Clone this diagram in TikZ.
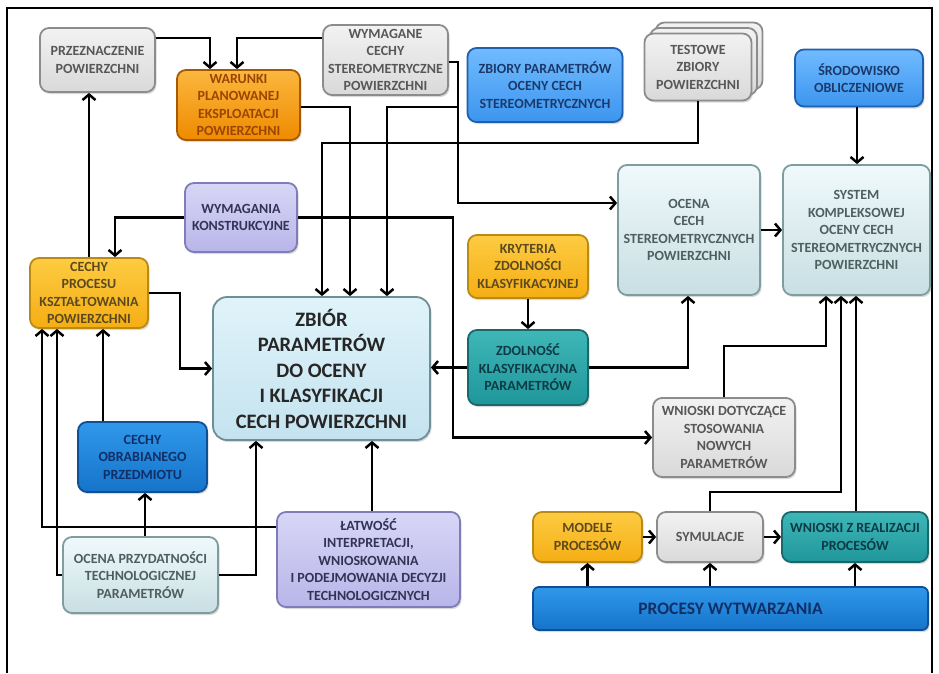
\documentclass[tikz,border=0pt]{standalone}
\usepackage{fontspec}
\setmainfont{Carlito}
\usepackage{xcolor}
\usetikzlibrary{arrows.meta,shadows}

\definecolor{grayline}{HTML}{8C8C8C}
\definecolor{graytop}{HTML}{F2F2F2}
\definecolor{graybot}{HTML}{D9D9D9}
\definecolor{graytext}{HTML}{575757}
\definecolor{orline}{HTML}{A65A00}
\definecolor{ortop}{HTML}{FBB73F}
\definecolor{orbot}{HTML}{EF8A00}
\definecolor{ortext}{HTML}{9A4600}
\definecolor{yeline}{HTML}{B98A14}
\definecolor{yetop}{HTML}{FDCB42}
\definecolor{yebot}{HTML}{F5AE14}
\definecolor{yetext}{HTML}{5C4A1E}
\definecolor{blline}{HTML}{1F5FAE}
\definecolor{bltop}{HTML}{71BBFF}
\definecolor{blbot}{HTML}{3C95EE}
\definecolor{bltext}{HTML}{1B3A6B}
\definecolor{dbline}{HTML}{0F4F95}
\definecolor{dbtop}{HTML}{3098EA}
\definecolor{dbbot}{HTML}{1574CA}
\definecolor{dbtext}{HTML}{0F2F66}
\definecolor{lvline}{HTML}{7F7CB8}
\definecolor{lvtop}{HTML}{D8D6F6}
\definecolor{lvbot}{HTML}{B8B5E9}
\definecolor{lvtext}{HTML}{333355}
\definecolor{pline}{HTML}{7F9C9E}
\definecolor{ptop}{HTML}{F0F9FB}
\definecolor{pbot}{HTML}{C8DFE3}
\definecolor{ptext}{HTML}{4F5F60}
\definecolor{bgline}{HTML}{6F8E96}
\definecolor{bgtop}{HTML}{E0F3FA}
\definecolor{bgbot}{HTML}{C4E3EF}
\definecolor{bgtext}{HTML}{262626}
\definecolor{tlline}{HTML}{17696B}
\definecolor{tltop}{HTML}{3FB6B8}
\definecolor{tlbot}{HTML}{1F979A}
\definecolor{tltext}{HTML}{0E3A45}

\tikzset{
	boxbase/.style={rounded corners=9pt, line width=1.8pt, align=center, inner sep=1pt,
		font=\bfseries\fontsize{14}{17.5}\selectfont,
		drop shadow={shadow xshift=1.5pt,shadow yshift=-2pt,opacity=0.3}},
	wh/.style 2 args={minimum width=#1pt, minimum height=#2pt},
	graybox/.style={boxbase, draw=grayline, top color=graytop, bottom color=graybot, text=graytext},
	orangebox/.style={boxbase, draw=orline, top color=ortop, bottom color=orbot, text=ortext},
	yellowbox/.style={boxbase, draw=yeline, top color=yetop, bottom color=yebot, text=yetext},
	bluebox/.style={boxbase, draw=blline, top color=bltop, bottom color=blbot, text=bltext},
	darkbluebox/.style={boxbase, draw=dbline, top color=dbtop, bottom color=dbbot, text=dbtext},
	lavbox/.style={boxbase, draw=lvline, top color=lvtop, bottom color=lvbot, text=lvtext},
	palebox/.style={boxbase, draw=pline, top color=ptop, bottom color=pbot, text=ptext},
	bigbox/.style={boxbase, draw=bgline, top color=bgtop, bottom color=bgbot, text=bgtext,
		rounded corners=14pt, font=\bfseries\fontsize{20.5}{25.5}\selectfont},
	tealbox/.style={boxbase, draw=tlline, top color=tltop, bottom color=tlbot, text=tltext},
	arr/.style={line width=2.5pt, -{Straight Barb[length=5.5pt,width=13pt]}},
}

\begin{document}
\begin{tikzpicture}[x=1pt,y=-1pt]
	\useasboundingbox (0,0) rectangle (939,673);
	\draw[line width=2pt] (7,673) -- (7,8) -- (932,8) -- (932,673);
	%
	\node[graybox,wh={115}{64}] (przezn) at (97.5,60) {PRZEZNACZENIE\\POWIERZCHNI};
	\node[orangebox,wh={123}{70}] (warunki) at (238.5,105) {WARUNKI\\PLANOWANEJ\\EKSPLOATACJI\\POWIERZCHNI};
	\node[graybox,wh={125}{70}] (wymag) at (385.5,60) {WYMAGANE\\CECHY\\STEREOMETRYCZNE\\POWIERZCHNI};
	\node[bluebox,wh={155}{74}] (zbiory) at (545,85) {ZBIORY PARAMETRÓW\\OCENY CECH\\STEREOMETRYCZNYCH};
	\node[graybox,wh={107}{67},
		copy shadow={shadow xshift=11pt,shadow yshift=11pt,top color=graytop,bottom color=graybot,draw=grayline,line width=1.8pt},
		copy shadow={shadow xshift=5.5pt,shadow yshift=5.5pt,top color=graytop,bottom color=graybot,draw=grayline,line width=1.8pt}]
		(testowe) at (698,67) {TESTOWE\\ZBIORY\\POWIERZCHNI};
	\node[bluebox,wh={128}{57}] (srodow) at (859,78) {ŚRODOWISKO\\OBLICZENIOWE};
	\node[palebox,wh={142}{130}] (ocena) at (689,230) {OCENA\\CECH\\STEREOMETRYCZNYCH\\POWIERZCHNI};
	\node[palebox,wh={147}{130}] (system) at (856.5,230) {SYSTEM\\KOMPLEKSOWEJ\\OCENY CECH\\STEREOMETRYCZNYCH\\POWIERZCHNI};
	\node[lavbox,wh={112}{69}] (wymkon) at (241,217.5) {WYMAGANIA\\KONSTRUKCYJNE};
	\node[yellowbox,wh={118}{70}] (cechyproc) at (89,293) {CECHY\\PROCESU\\KSZTAŁTOWANIA\\POWIERZCHNI};
	\node[bigbox,wh={217}{143}] (zbior) at (321.5,368.5) {ZBIÓR\\PARAMETRÓW\\DO OCENY\\I KLASYFIKACJI\\CECH POWIERZCHNI};
	\node[yellowbox,wh={120}{63}] (kryter) at (528,266.5) {KRYTERIA\\ZDOLNOŚCI\\KLASYFIKACYJNEJ};
	\node[tealbox,wh={120}{75}] (zdoln) at (528,367.5) {ZDOLNOŚĆ\\KLASYFIKACYJNA\\PARAMETRÓW};
	\node[graybox,wh={142}{79}] (wnioskid) at (724,437.5) {WNIOSKI DOTYCZĄCE\\STOSOWANIA\\NOWYCH\\PARAMETRÓW};
	\node[darkbluebox,wh={129}{70}] (cechyobr) at (142.5,457) {CECHY\\OBRABIANEGO\\PRZEDMIOTU};
	\node[palebox,wh={155}{76}] (ocenaprz) at (140.5,575) {OCENA PRZYDATNOŚCI\\TECHNOLOGICZNEJ\\PARAMETRÓW};
	\node[lavbox,wh={183}{95}] (latw) at (368.5,559.5) {ŁATWOŚĆ\\INTERPRETACJI,\\WNIOSKOWANIA\\I PODEJMOWANIA DECYZJI\\TECHNOLOGICZNYCH};
	\node[yellowbox,wh={109}{50}] (modele) at (587.5,537) {MODELE\\PROCESÓW};
	\node[graybox,wh={106}{50}] (symul) at (710,537) {SYMULACJE};
	\node[tealbox,wh={146}{50}] (wnioskiz) at (855,537) {WNIOSKI Z REALIZACJI\\PROCESÓW};
	\node[darkbluebox,wh={395}{43},rounded corners=6pt,font=\bfseries\fontsize{17.5}{20}\selectfont] (procesy) at (730.5,608.5) {PROCESY WYTWARZANIA};
	%
	\coordinate (split) at (458,107);
	\draw[arr] (przezn.east |- 0,38) -| (210,0 |- warunki.north);
	\draw[arr] (wymag.west |- 0,38) -| (237,0 |- warunki.north);
	\draw[arr] (warunki.east |- 0,107) -| (350,0 |- zbior.north);
	\draw[arr] (wymag.east |- 0,62) -| (458,203) -- (ocena.west |- 0,203);
	\draw[arr] (split) -| (387,0 |- zbior.north);
	\draw[arr] (testowe.south) |- (322,143) -- (322,0 |- zbior.north);
	\draw[arr] (wymkon.west) -| (115,0 |- cechyproc.north);
	\draw[arr] (wymkon.east) -| (453,0 |- wnioskid.west) -- (wnioskid.west);
	\draw[arr] (cechyproc.north -| 89,0) -- (przezn.south -| 89,0);
	\draw[arr] (cechyproc.east) -| (180,0 |- zbior.west) -- (zbior.west);
	\draw[arr] (cechyobr.north -| 103,0) -- (cechyproc.south -| 103,0);
	\draw[arr] (latw.west |- 0,527) -| (cechyproc.south -| 42,0);
	\draw[arr] (ocenaprz.west) -| (cechyproc.south -| 57,0);
	\draw[arr] (ocenaprz.east) -| (zbior.south -| 256,0);
	\draw[arr] (ocenaprz.north -| 145,0) -- (cechyobr.south -| 145,0);
	\draw[arr] (latw.north -| 372,0) -- (zbior.south -| 372,0);
	\draw[arr] (kryter) -- (zdoln);
	\draw[arr] (zdoln.west) -- (zbior.east |- zdoln.west);
	\draw[arr] (zdoln.east) -| (ocena.south -| 688,0);
	\draw[arr] (ocena.east) -- (system.west |- ocena.east);
	\draw[arr] (srodow.south -| 857,0) -- (system.north -| 857,0);
	\draw[arr] (wnioskid.north) |- (826,346) -- (system.south -| 826,0);
	\draw[arr] (symul.north) |- (841,492) -- (system.south -| 841,0);
	\draw[arr] (wnioskiz.north -| 856,0) -- (system.south -| 856,0);
	\draw[arr] (modele) -- (symul);
	\draw[arr] (symul) -- (wnioskiz);
	\draw[arr] (procesy.north -| modele) -- (modele.south);
	\draw[arr] (procesy.north -| symul) -- (symul.south);
	\draw[arr] (procesy.north -| wnioskiz) -- (wnioskiz.south);
\end{tikzpicture}
\end{document}
